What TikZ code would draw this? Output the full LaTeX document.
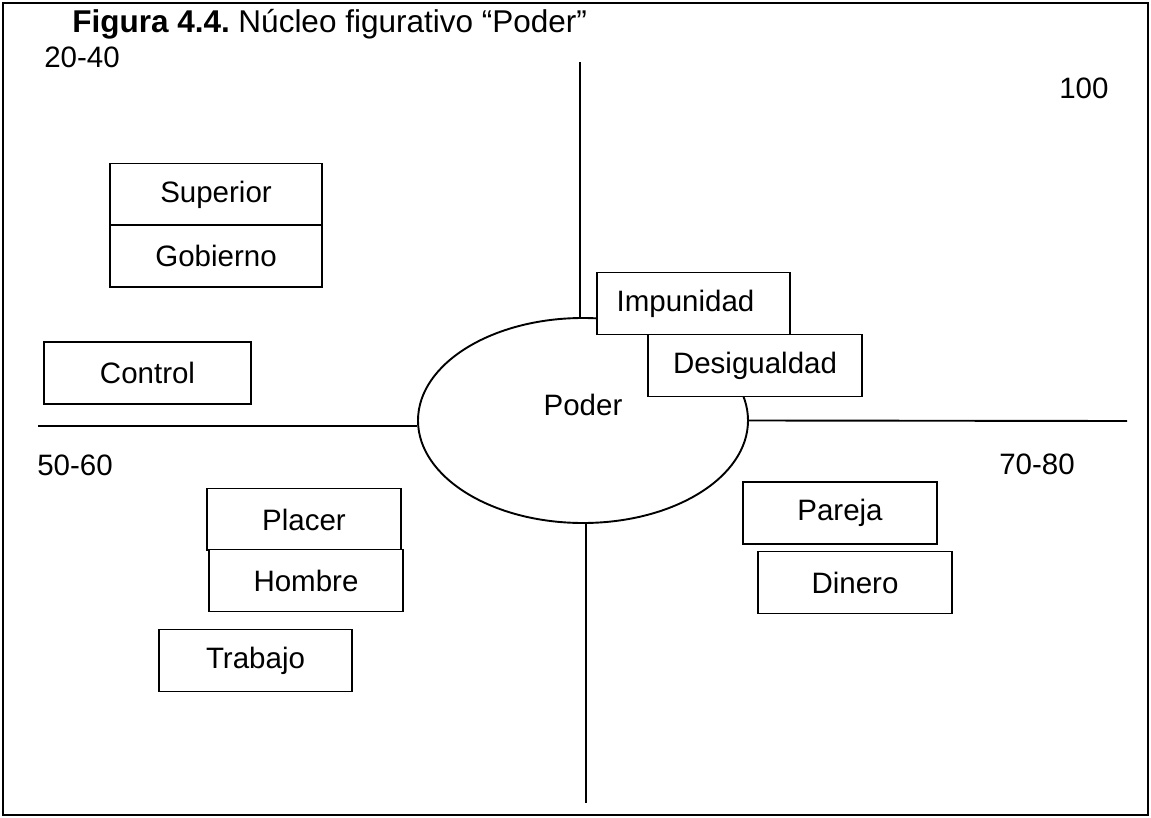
\documentclass[tikz,border=0pt]{standalone}
\usepackage{fontspec}
\setmainfont{Liberation Sans}
\usetikzlibrary{shapes.geometric}

\begin{document}
\begin{tikzpicture}[x=1pt,y=-1pt,line width=1.9pt,
    every node/.style={font=\fontsize{29.5}{35}\selectfont},
    caja/.style={draw,fill=white,minimum height=62pt,inner sep=0pt},
    nucleo/.style={draw,ellipse,minimum width=330pt,minimum height=205pt,inner sep=0pt}]
    \useasboundingbox (0,0) rectangle (1151,818);
    \draw (3,3) rectangle (1148,815);
    \node[anchor=base west,font=\fontsize{31.5}{36}\selectfont] (titulo) at (68,33)
        {\textbf{Figura 4.4.}\kern-3pt{} Núcleo figurativo “Poder”};
    \foreach \n/\t/\x/\y in {q1/20-40/40/68,q2/100/1055/99,q3/50-60/33/475,q4/70-80/995/474}
        \node[anchor=base west] (\n) at (\x,\y) {\t};
    \node[nucleo,label={[yshift=16pt]center:Poder}] (poder) at (583,420.5) {};
    \coordinate (arriba) at (580,62);
    \coordinate (abajo) at (586,803);
    \coordinate (izq) at (38,426);
    \coordinate (der) at (1127,421);
    \draw (arriba) -- (arriba |- poder.north);
    \draw (abajo |- poder.south) -- (abajo);
    \draw (izq) -- (izq -| poder.west);
    \draw (poder.east) -- (der);
    \foreach \n/\t/\x/\y/\w in {sup/Superior/216/194.5/212,gob/Gobierno/216/256/212,
        con/Control/147.5/373/207,imp/Impunidad\kern16pt/693.5/303.5/193,des/Desigualdad/755/365.5/214,
        pla/Placer/304/519.5/194,hom/Hombre/306/580.5/194,tra/Trabajo/255.5/660.5/193,
        par/Pareja/840/513/194,din/Dinero/855/582.5/194}
        \node[caja,minimum width=\w pt] (\n) at (\x,\y) {\t};
\end{tikzpicture}
\end{document}
